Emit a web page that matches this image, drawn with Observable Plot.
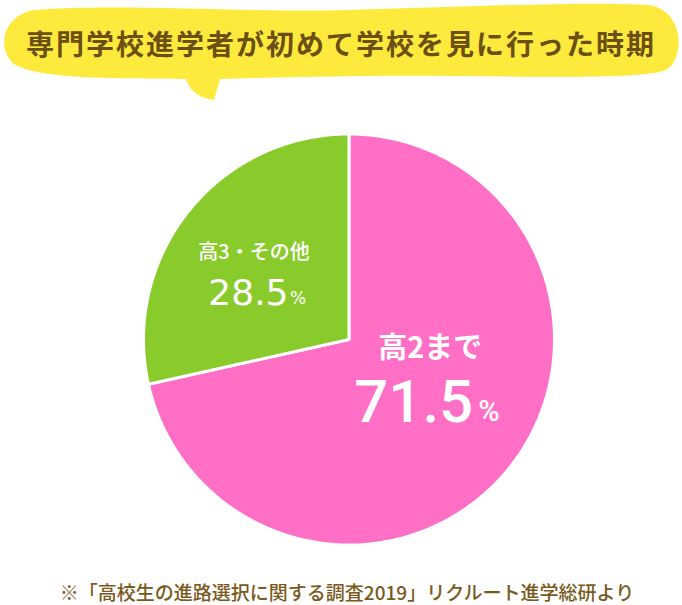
<!DOCTYPE html>
<html lang="ja">
<head>
<meta charset="utf-8">
<script src="https://cdn.jsdelivr.net/npm/d3@7"></script>
<script src="https://cdn.jsdelivr.net/npm/@observablehq/plot@0.6"></script>
<style>
  html, body { margin: 0; padding: 0; background: #fff; }
  #wrap { position: relative; width: 682px; height: 605px; overflow: hidden; }
  #bubble { position: absolute; left: 0; top: 0; }
  #title {
    position: absolute; left: 0; top: 23px; width: 682px; text-align: center;
    font-family: "Noto Sans CJK JP", sans-serif; font-weight: 700;
    font-size: 28px; letter-spacing: 2px; color: #6b4f14; line-height: 40px;
  }
  #chart { position: absolute; left: 0; top: 120px; }
  #caption {
    position: absolute; left: 0; top: 580px; width: 694px; text-align: center;
    font-family: "Noto Sans CJK JP", sans-serif; font-weight: 500;
    font-size: 19px; color: #7a5a1c; line-height: 24px; white-space: nowrap;
  }
</style>
</head>
<body>
<div id="wrap">
  <svg id="bubble" width="682" height="110" viewBox="0 0 682 110">
    <path fill="#fdea3d" d="M 34,10 C 120,3 250,13 350,10 C 460,7 590,1 648,5 C 684,9 686,58 666,70 C 636,82 480,74 360,76 C 300,77 250,78 220,79 L 214,100 C 200,98 190,92 186,79 C 120,78 40,80 14,64 C -3,50 1,16 34,10 Z"/>
  </svg>
  <div id="title">専門学校進学者が初めて学校を見に行った時期</div>
  <div id="chart"></div>
  <div id="caption">※「高校生の進路選択に関する調査2019」リクルート進学総研より</div>
</div>
<script>
// Share of respondents by when they first visited a school
const categories = ["高2まで", "高3・その他"];
const shares = [71.5, 28.5];
const sliceColors = ["#ff6fc5", "#8acb2c"];

// Slice outlines: d3.pie gives angles clockwise from 12 o'clock
const arcs = d3.pie().sort(null)(shares);
const outline = [];
arcs.forEach((a, i) => {
  const slice = categories[i];
  outline.push({slice, x: 0, y: 0});
  const steps = Math.max(2, Math.ceil((a.endAngle - a.startAngle) / (Math.PI / 120)));
  for (let k = 0; k <= steps; k++) {
    const t = a.startAngle + (a.endAngle - a.startAngle) * k / steps;
    outline.push({slice, x: Math.sin(t), y: Math.cos(t)});
  }
});

// Label anchors inside each slice
const labels = arcs.map((a, i) => {
  const mid = (a.startAngle + a.endAngle) / 2;
  const r = i === 0 ? 0.55 : 0.58;
  return {slice: categories[i], value: shares[i], x: r * Math.sin(mid), y: r * Math.cos(mid)};
});
const big = labels.filter(d => d.slice === categories[0]);
const small = labels.filter(d => d.slice === categories[1]);

const jp = "Noto Sans CJK JP, sans-serif";
const num = "Roboto, Noto Sans, sans-serif";
const numLight = "DejaVu Sans, sans-serif";

const chart = Plot.plot({
  width: 682,
  height: 440,
  marginLeft: 143,
  marginRight: 128,
  marginTop: 13.5,
  marginBottom: 15.5,
  x: {domain: [-1, 1], axis: null},
  y: {domain: [-1, 1], axis: null},
  color: {domain: categories, range: sliceColors},
  marks: [
    Plot.line(outline, {x: "x", y: "y", z: "slice", fill: "slice", stroke: "white", strokeWidth: 3, curve: "linear-closed", strokeLinejoin: "miter"}),
    // 高2まで 71.5%
    Plot.text(big, {x: "x", y: "y", text: "slice", fill: "white", fontFamily: jp, fontWeight: 700, fontSize: 29, dx: -7, dy: -61}),
    Plot.text(big, {x: "x", y: "y", text: d => d.value.toFixed(1), fill: "white", fontFamily: num, fontWeight: 500, fontSize: 60, textAnchor: "end", dx: 36, dy: -7}),
    Plot.text(big, {x: "x", y: "y", text: () => "%", fill: "white", fontFamily: num, fontWeight: 500, fontSize: 29, textAnchor: "start", dx: 41, dy: 2}),
    // 高3・その他 28.5%
    Plot.text(small, {x: "x", y: "y", text: "slice", fill: "white", fontFamily: jp, fontWeight: 500, fontSize: 20, dx: -2, dy: -12}),
    Plot.text(small, {x: "x", y: "y", text: d => d.value.toFixed(1), fill: "white", fontFamily: numLight, fontWeight: 400, fontSize: 36, textAnchor: "end", dx: 32.5, dy: 28}),
    Plot.text(small, {x: "x", y: "y", text: () => "%", fill: "white", fontFamily: numLight, fontWeight: 400, fontSize: 17, textAnchor: "start", dx: 34, dy: 34})
  ]
});
document.getElementById("chart").appendChild(chart);
</script>
</body>
</html>
